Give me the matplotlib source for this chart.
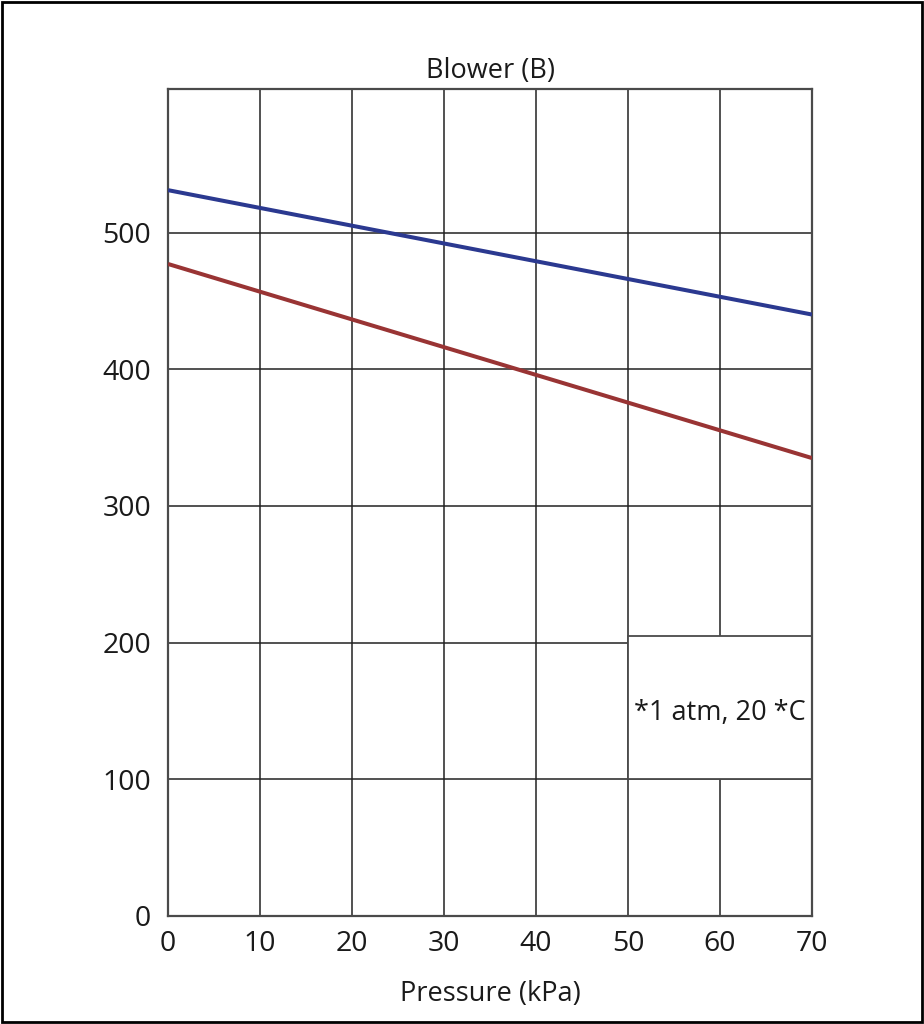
import matplotlib.pyplot as plt
from matplotlib.patches import Rectangle

# values
pressure = [0, 70]
flow_upper = [531, 440]
flow_lower = [477, 335]
x_ticks = [0, 10, 20, 30, 40, 50, 60, 70]
y_ticks = [0, 100, 200, 300, 400, 500]
note_box = (50, 100, 70, 205)  # x0, y0, x1, y1 in data units
note_text = "*1 atm, 20 *C"

text_color = "#1a1a1a"
grid_color = "#222222"

plt.rcParams["font.family"] = ["Open Sans", "DejaVu Sans"]

fig = plt.figure(figsize=(9.24, 10.24), dpi=100, facecolor="white")
ax = fig.add_axes([168 / 924, 1 - 916 / 1024, (812 - 168) / 924, (916 - 89) / 1024])

ax.plot(pressure, flow_upper, color="#2b3990", linewidth=2.9, zorder=3,
        solid_capstyle="butt")
ax.plot(pressure, flow_lower, color="#993434", linewidth=2.9, zorder=3,
        solid_capstyle="butt")

ax.set_xlim(0, 70)
ax.set_ylim(0, 605)
ax.set_xticks(x_ticks)
ax.set_yticks(y_ticks)
ax.set_xticklabels([str(t) for t in x_ticks], fontsize=20.5, color=text_color)
ax.set_yticklabels([str(t) for t in y_ticks], fontsize=20.5, color=text_color)
ax.tick_params(axis="both", length=0)
ax.tick_params(axis="y", pad=12)
ax.tick_params(axis="x", pad=10)
ax.grid(True, color=grid_color, linewidth=1.1, zorder=1)
ax.set_axisbelow(True)
for spine in ax.spines.values():
    spine.set_color("#4a4a4a")
    spine.set_linewidth(1.6)

# white note box hiding the grid behind it
x0, y0, x1, y1 = note_box
ax.add_patch(Rectangle((x0, y0), x1 - x0, y1 - y0, facecolor="white",
                       edgecolor="#4a4a4a", linewidth=1.3, zorder=2))
ax.text((x0 + x1) / 2, (y0 + y1) / 2 - 4, note_text, ha="center", va="center",
        fontsize=19.5, color=text_color, zorder=4)

ax.set_title("Blower (B)", fontsize=19.5, color=text_color, pad=8)
ax.set_xlabel("Pressure (kPa)", fontsize=19.5, color=text_color, labelpad=16)

# thin frame around the whole picture
fig.patches.append(Rectangle((0.002, 0.002), 0.996, 0.996, transform=fig.transFigure,
                             fill=False, edgecolor="black", linewidth=2))

fig.savefig("out.png", dpi=100, facecolor="white")
